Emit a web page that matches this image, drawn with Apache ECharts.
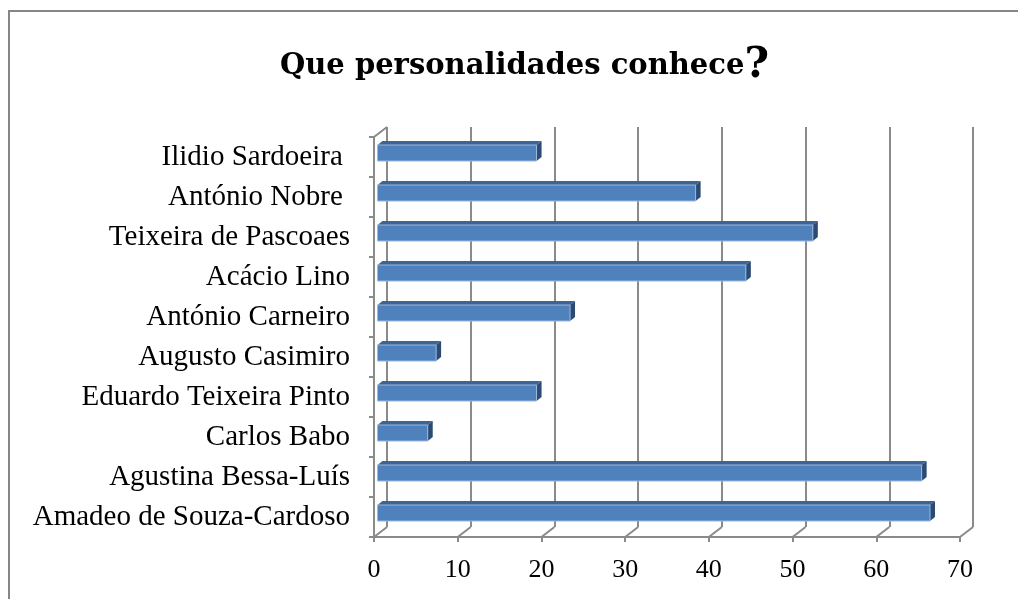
<!DOCTYPE html>
<html>
<head>
<meta charset="utf-8">
<script src="https://cdn.jsdelivr.net/npm/echarts@6/dist/echarts.min.js"></script>
<style>
  html, body { margin: 0; padding: 0; background: #fff; }
  #chart { width: 1018px; height: 599px; }
</style>
</head>
<body>
<div id="chart"></div>
<script>
// categorias (de baixo para cima, como no Excel)
const categories = [
  'Amadeo de Souza-Cardoso',
  'Agustina Bessa-Luís',
  'Carlos Babo',
  'Eduardo Teixeira Pinto',
  'Augusto Casimiro',
  'António Carneiro',
  'Acácio Lino',
  'Teixeira de Pascoaes',
  'António Nobre ',
  'Ilidio Sardoeira '
]
const values = [66, 65, 6, 19, 7, 23, 44, 52, 38, 19]
const xTicks = [0, 10, 20, 30, 40, 50, 60, 70]

const serif = 'Liberation Serif'
const gridColor = '#8a8a8a'
// profundidade do "3D"
const wallDx = 13
const wallDy = -10

const chart = echarts.init(document.getElementById('chart'))

// barras com face de cima e face lateral
function renderBar (params, api) {
  const v = api.value(0)
  const cat = api.value(1)
  const p0 = api.coord([0, cat])
  const p1 = api.coord([v, cat])
  const c = p0[1]
  const x0 = p0[0] + 3.5
  const x1 = p1[0] + 3.5
  const dx = 5
  const dy = -4
  return {
    type: 'group',
    children: [
      {
        type: 'polygon',
        shape: { points: [[x0, c - 12], [x0 + dx, c - 12 + dy], [x1 + dx, c - 12 + dy], [x1, c - 12]] },
        style: { fill: '#3c6494' }
      },
      {
        type: 'polygon',
        shape: { points: [[x1, c - 12], [x1 + dx, c - 12 + dy], [x1 + dx, c + 4 + dy], [x1, c + 4]] },
        style: { fill: '#2b4b74' }
      },
      {
        type: 'rect',
        shape: { x: x0, y: c - 12, width: x1 - x0, height: 16 },
        style: { fill: '#4f81bd', stroke: '#9ab8dc', lineWidth: 1 }
      }
    ]
  }
}

// linhas diagonais do chão e da parede lateral
function renderFloor (params, api) {
  const cs = params.coordSys
  const x = api.coord([api.value(0), 0])[0]
  const yb = cs.y + cs.height
  const children = [{
    type: 'line',
    shape: { x1: x, y1: yb, x2: x + wallDx, y2: yb + wallDy },
    style: { stroke: gridColor, lineWidth: 2 }
  }]
  if (api.value(0) === 0) {
    children.push({
      type: 'line',
      shape: { x1: x, y1: cs.y, x2: x + wallDx, y2: cs.y + wallDy },
      style: { stroke: gridColor, lineWidth: 2 }
    })
  }
  return { type: 'group', children: children }
}

let option = {
  animation: false,
  title: {
    left: 275,
    top: 40,
    text: '{a|Que personalidades conhece}{b|?}',
    textStyle: {
      rich: {
        a: { fontFamily: 'DejaVu Serif', fontWeight: 'bold', fontSize: 29, color: '#000' },
        b: { fontFamily: 'DejaVu Serif', fontWeight: 'bold', fontSize: 42, color: '#000' }
      }
    }
  },
  graphic: [
    {
      type: 'polyline',
      shape: { points: [[9, 599], [9, 11], [1018, 11]] },
      style: { stroke: '#868686', lineWidth: 2, fill: null }
    }
  ],
  grid: [
    { left: 374, right: 58, top: 137, bottom: 62 },
    { left: 374 + wallDx, right: 58 - wallDx, top: 137 + wallDy, bottom: 62 - wallDy }
  ],
  xAxis: [
    {
      type: 'value',
      gridIndex: 0,
      min: 0,
      max: 70,
      interval: 10,
      axisLine: { show: true, lineStyle: { color: gridColor, width: 2 } },
      axisTick: { show: true, length: 5, lineStyle: { color: gridColor, width: 2 } },
      splitLine: { show: false },
      axisLabel: { color: '#000', fontFamily: serif, fontSize: 26, margin: 20 }
    },
    {
      type: 'value',
      gridIndex: 1,
      min: 0,
      max: 70,
      interval: 10,
      axisLine: { show: false },
      axisTick: { show: false },
      axisLabel: { show: false },
      splitLine: { show: true, lineStyle: { color: gridColor, width: 2 } }
    }
  ],
  yAxis: [
    {
      type: 'category',
      gridIndex: 0,
      data: categories,
      axisLine: { show: true, lineStyle: { color: gridColor, width: 2 } },
      axisTick: { show: true, length: 5, lineStyle: { color: gridColor, width: 2 } },
      axisLabel: { color: '#000', fontFamily: serif, fontSize: 29, margin: 24 }
    },
    {
      type: 'category',
      gridIndex: 1,
      data: categories,
      show: false
    }
  ],
  series: [
    {
      type: 'custom',
      xAxisIndex: 0,
      yAxisIndex: 0,
      renderItem: renderFloor,
      data: xTicks.map(t => [t]),
      z: 1
    },
    {
      type: 'custom',
      xAxisIndex: 0,
      yAxisIndex: 0,
      renderItem: renderBar,
      data: values.map((v, i) => [v, i]),
      z: 3
    }
  ]
}
chart.setOption(option)
</script>
</body>
</html>
